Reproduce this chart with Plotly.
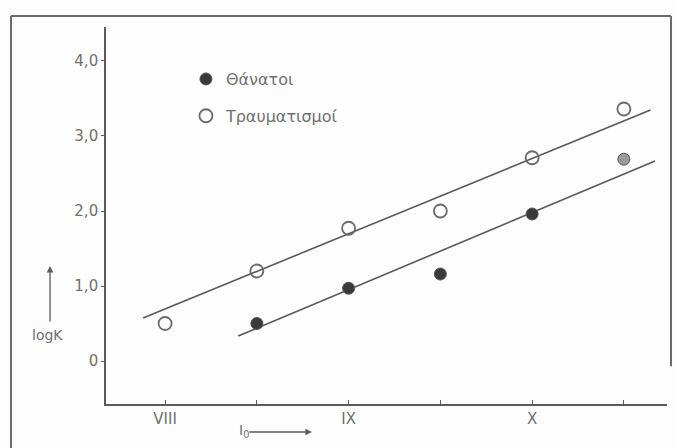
import plotly.graph_objects as go

# ---- data ----
x_tick_vals = [8, 9, 10]
x_tick_text = ["VIII", "IX", "X"]
x_minor_vals = [8.5, 9.5, 10.5]
y_tick_vals = [0, 1, 2, 3, 4]
y_tick_text = ["0", "1,0", "2,0", "3,0", "4,0"]

injuries_x = [8, 8.5, 9, 9.5, 10, 10.5]
injuries_y = [0.50, 1.20, 1.77, 2.00, 2.71, 3.36]

deaths_x = [8.5, 9, 9.5, 10, 10.5]
deaths_y = [0.50, 0.97, 1.16, 1.96, 2.69]

inj_line_x = [7.88, 10.645]
inj_line_y = [0.573, 3.347]
death_line_x = [8.398, 10.67]
death_line_y = [0.333, 2.667]

deaths_name = "Θάνατοι"
injuries_name = "Τραυματισμοί"

INK = "#5a5a5a"
TXT = "#707070"
FONT = "DejaVu Sans"

fig = go.Figure()

fig.add_trace(go.Scatter(x=inj_line_x, y=inj_line_y, mode="lines",
                         line=dict(color=INK, width=1.6), showlegend=False,
                         hoverinfo="skip"))
fig.add_trace(go.Scatter(x=death_line_x, y=death_line_y, mode="lines",
                         line=dict(color=INK, width=1.6), showlegend=False,
                         hoverinfo="skip"))

fig.add_trace(go.Scatter(
    x=deaths_x, y=deaths_y, mode="markers", name=deaths_name,
    legendgroup="d",
    marker=dict(symbol="circle", size=12,
                color=["#3a3a3a", "#3a3a3a", "#3a3a3a", "#3a3a3a", "#9a9a9a"],
                line=dict(color="#555", width=1))))
fig.add_trace(go.Scatter(
    x=injuries_x, y=injuries_y, mode="markers", name=injuries_name,
    legendgroup="i",
    marker=dict(symbol="circle-open", size=13, color="#6a6a6a",
                line=dict(width=1.8))))

axis_common = dict(showgrid=False, zeroline=False, showline=True,
                   linecolor=INK, linewidth=1.6,
                   tickfont=dict(family=FONT, size=15, color=TXT),
                   tickcolor=INK)

fig.update_xaxes(range=[7.678, 10.735], tickmode="array",
                 tickvals=x_tick_vals, ticktext=x_tick_text,
                 ticks="inside", ticklen=4, tickwidth=1.2,
                 minor=dict(tickmode="array", tickvals=x_minor_vals,
                            ticks="inside", ticklen=4, tickwidth=1.2,
                            tickcolor=INK, showgrid=False),
                 **axis_common)
fig.update_yaxes(range=[-0.573, 4.453], tickmode="array",
                 tickvals=y_tick_vals, ticktext=y_tick_text,
                 ticks="outside", ticklen=3, tickwidth=1.2, **axis_common)

# frame of the scanned figure
frame = dict(type="line", xref="paper", yref="paper",
             line=dict(color="#6a6a6a", width=2))
fig.add_shape(x0=-0.1693, x1=-0.1693, y0=1.0292, y1=-0.15, **frame)
fig.add_shape(x0=-0.1693, x1=1.0071, y0=1.0292, y1=1.0292, **frame)
fig.add_shape(x0=1.0071, x1=1.0071, y0=1.0292, y1=0.10, **frame)

# axis labels
fig.add_annotation(xref="paper", yref="paper", x=-0.1034, y=0.183,
                   xanchor="center", yanchor="middle",
                   text="logK", showarrow=False,
                   font=dict(family=FONT, size=14, color=TXT))
fig.add_annotation(xref="paper", yref="paper", x=0.233, y=-0.071,
                   xanchor="left", yanchor="middle",
                   text="I<sub>0</sub>", showarrow=False,
                   font=dict(family=FONT, size=14, color=TXT))

# arrows next to the axis labels
fig.add_annotation(xref="paper", yref="paper", x=-0.0998, y=0.366,
                   ax=0, ay=57, text="", showarrow=True,
                   arrowhead=2, arrowsize=1, arrowwidth=1.3,
                   arrowcolor=INK, standoff=0, startstandoff=0)
fig.add_annotation(xref="paper", yref="paper", x=0.367, y=-0.0743,
                   ax=-64, ay=0, text="", showarrow=True,
                   arrowhead=2, arrowsize=1, arrowwidth=1.3,
                   arrowcolor=INK, standoff=0, startstandoff=0)

fig.update_layout(
    width=675, height=448,
    margin=dict(l=106, r=8, t=27, b=44),
    paper_bgcolor="#fdfdfd", plot_bgcolor="#fdfdfd",
    font=dict(family=FONT, color=TXT),
    showlegend=True,
    legend=dict(x=0.1425, y=0.907, xanchor="left", yanchor="top",
                bgcolor="rgba(0,0,0,0)", tracegroupgap=13,
                font=dict(family=FONT, size=16, color=TXT),
                itemwidth=30),
)

fig.write_html("out.html")
